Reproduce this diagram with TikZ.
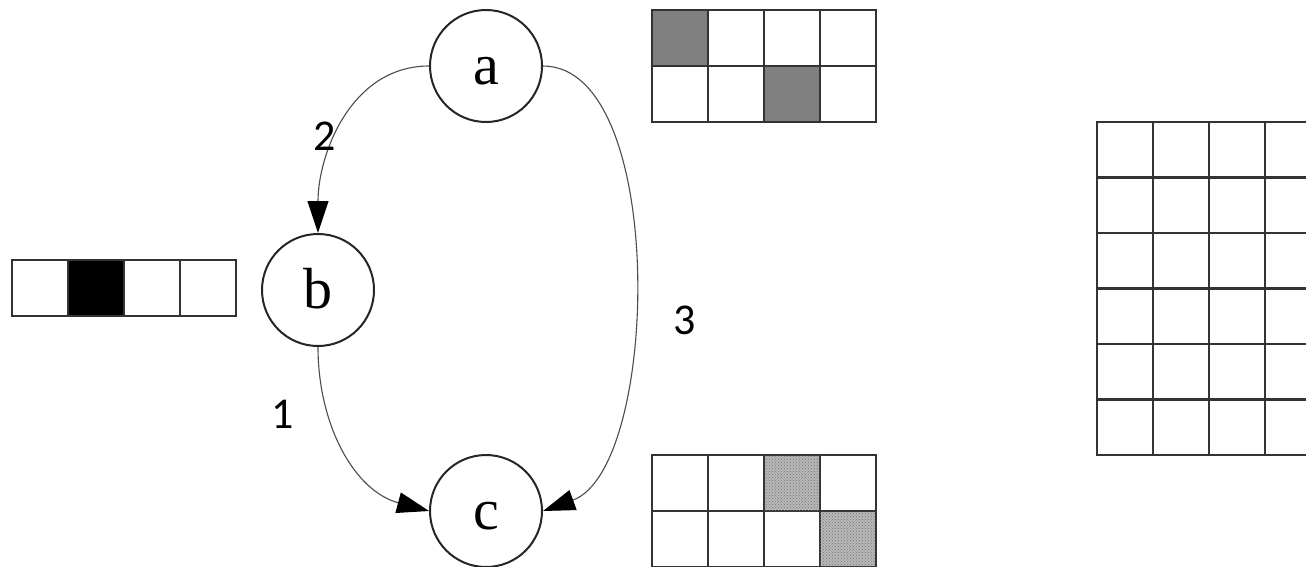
\documentclass[tikz,border=0pt]{standalone}
\usepackage{fontspec}
\setmainfont{Liberation Serif}
\newfontfamily\numfont{Carlito}
\usetikzlibrary{arrows.meta,patterns}
\begin{document}
\begin{tikzpicture}[x=1pt,y=1pt,
  state/.style={circle,draw=black!85,line width=2pt,minimum size=112pt,inner sep=0pt,
    font=\fontsize{58}{60}\selectfont,text height=40pt,text depth=3.5pt},
  edge/.style={draw=black!70,line width=1.1pt,
    -{Triangle[length=32pt,width=21pt,color=black]}},
  weight/.style={font=\numfont\fontsize{44}{46}\selectfont},
  cellbox/.style={draw=black!80,line width=2.4pt},
  solidgray/.style={cellbox,fill=black!50},
  solidblack/.style={cellbox,fill=black},
  dotted gray/.style={cellbox,fill=black!28,
    postaction={pattern=crosshatch dots,pattern color=black!55}}]
\useasboundingbox (0,0) rectangle (1306,-566);
\fill[white] (0,0) rectangle (1306,-566);

% graph
\node[state] (a) at (486,-66) {a};
\node[state] (b) at (318,-290) {b};
\node[state] (c) at (486,-511) {c};

\draw[edge] (a.west) to[out=180,in=90] (b.north);
\draw[edge] (b.south) to[out=-90,in=165] (c.west);
\draw[edge] (a.east) to[out=0,in=20,looseness=0.72] (c.east);

\node[weight] (w2) at (325,-136) {2};
\node[weight] (w1) at (283,-414) {1};
\node[weight] (w3) at (685,-320) {3};

% top 4x2 grid
\begin{scope}[shift={(652,-10)}]
  \foreach \i in {0,...,3}
    \foreach \j in {0,1}
      \draw[cellbox] (56*\i,-56*\j) rectangle ++(56,-56);
  \draw[solidgray] (0,0) rectangle ++(56,-56);
  \draw[solidgray] (112,-56) rectangle ++(56,-56);
\end{scope}

% bottom 4x2 grid
\begin{scope}[shift={(652,-455)}]
  \foreach \i in {0,...,3}
    \foreach \j in {0,1}
      \draw[cellbox] (56*\i,-56*\j) rectangle ++(56,-56);
  \draw[dotted gray] (112,0) rectangle ++(56,-56);
  \draw[dotted gray] (168,-56) rectangle ++(56,-56);
\end{scope}

% left 4x1 strip
\begin{scope}[shift={(12,-260)}]
  \foreach \i in {0,...,3}
    \draw[cellbox] (56*\i,0) rectangle ++(56,-56);
  \draw[solidblack] (56,0) rectangle ++(56,-56);
\end{scope}

% right 4x6 grid
\begin{scope}[shift={(1097,-122)}]
  \foreach \i in {0,...,3}
    \foreach \j in {0,...,5}
      \draw[cellbox] (56*\i,-55.5*\j) rectangle ++(56,-55.5);
\end{scope}
\end{tikzpicture}
\end{document}
